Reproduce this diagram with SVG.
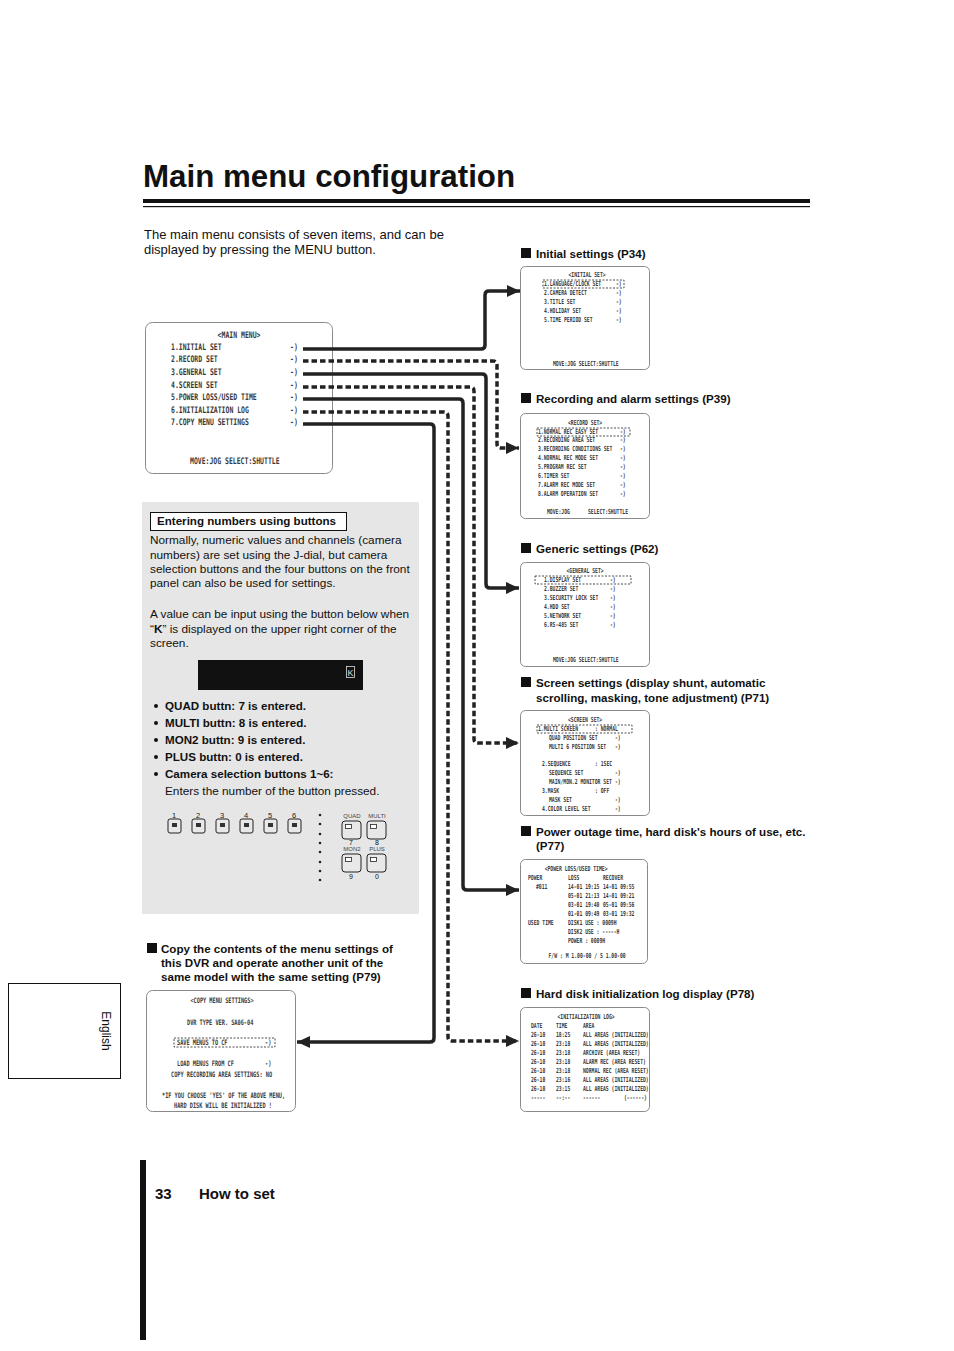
<svg xmlns="http://www.w3.org/2000/svg" width="954" height="1351" viewBox="0 0 954 1351">
<style>
.t{font-family:"Liberation Sans",Arial,sans-serif;fill:#111}
.b{font-weight:bold}
.box{fill:#fff;stroke:#8a8a8a;stroke-width:1}
.m{font-family:"DejaVu Sans Mono","Liberation Mono",monospace;font-size:7px;font-weight:bold;fill:#3a3a3a;transform:scaleX(0.68);transform-box:fill-box;transform-origin:0 0}
.mc{font-family:"DejaVu Sans Mono","Liberation Mono",monospace;font-size:7px;font-weight:bold;fill:#3a3a3a;transform:scaleX(0.68);transform-box:fill-box;transform-origin:50% 50%;text-anchor:middle}
.mm{font-size:9px;transform:scaleX(0.72)}
.cp{font-size:7.5px;transform:scaleX(0.7)}
.hl{fill:none;stroke:#222;stroke-width:0.8;stroke-dasharray:2 1.5}
.c{fill:none;stroke:#222;stroke-width:3.5}
.d{stroke-dasharray:5.5 3}
.btn{fill:#e8e8e8;stroke:#222;stroke-width:1}
.bi{fill:#333}
.sm{font-family:"Liberation Sans",Arial,sans-serif;font-size:6px;fill:#444;text-anchor:middle}
.sec{font-size:11.6px}
.p{font-size:11.8px}
</style>
<defs>
<marker id="ar" markerUnits="userSpaceOnUse" markerWidth="14" markerHeight="14" viewBox="0 0 14 14" refX="13" refY="7" orient="auto">
<path d="M0,1 L13,7 L0,13 Z" fill="#222"/>
</marker>
</defs>
<rect width="954" height="1351" fill="#fff"/>

<g id="title">
<text class="t b" x="143" y="187" font-size="31.3">Main menu configuration</text>
<rect x="143" y="199" width="667" height="4" fill="#111"/>
<rect x="143" y="206" width="667" height="1.2" fill="#111"/>
</g>

<g id="intro">
<text class="t" x="144" y="239" font-size="13">The main menu consists of seven items, and can be</text>
<text class="t" x="144" y="254" font-size="13">displayed by pressing the MENU button.</text>
</g>

<g id="main-menu">
<rect class="box" x="145.5" y="322.5" width="187" height="151" rx="7"/>
<text class="mc mm" x="239" y="338">&lt;MAIN MENU&gt;</text>
<text class="m mm" x="171" y="350">1.INITIAL SET</text>
<text class="m mm" x="171" y="362">2.RECORD SET</text>
<text class="m mm" x="171" y="375">3.GENERAL SET</text>
<text class="m mm" x="171" y="388">4.SCREEN SET</text>
<text class="m mm" x="171" y="400">5.POWER LOSS/USED TIME</text>
<text class="m mm" x="171" y="413">6.INITIALIZATION LOG</text>
<text class="m mm" x="171" y="425">7.COPY MENU SETTINGS</text>
<text class="m mm" x="290" y="350">-)</text>
<text class="m mm" x="290" y="362">-)</text>
<text class="m mm" x="290" y="375">-)</text>
<text class="m mm" x="290" y="388">-)</text>
<text class="m mm" x="290" y="400">-)</text>
<text class="m mm" x="290" y="413">-)</text>
<text class="m mm" x="290" y="425">-)</text>
<text class="m mm" x="190" y="464">MOVE:JOG   SELECT:SHUTTLE</text>
</g>

<g id="connectors">
<path class="c" d="M303,349 H481 Q485,349 485,345 V295 Q485,291 489,291 H520" marker-end="url(#ar)"/>
<path class="c d" d="M303,361 H493 Q497,361 497,365 V444 Q497,448 501,448 H519" marker-end="url(#ar)"/>
<path class="c" d="M303,374 H482 Q486,374 486,378 V584 Q486,588 490,588 H519" marker-end="url(#ar)"/>
<path class="c d" d="M303,387 H470 Q474,387 474,391 V739 Q474,743 478,743 H519" marker-end="url(#ar)"/>
<path class="c" d="M303,399 H459 Q463,399 463,403 V886 Q463,890 467,890 H519" marker-end="url(#ar)"/>
<path class="c d" d="M303,412 H444 Q448,412 448,416 V1037 Q448,1041 452,1041 H519" marker-end="url(#ar)"/>
<path class="c" d="M303,424 H430 Q434,424 434,428 V1038 Q434,1042 430,1042 H297" marker-end="url(#ar)"/>
</g>

<g id="initial-settings">
<rect x="521" y="248" width="10" height="10" fill="#111"/>
<text class="t b sec" x="536" y="258">Initial settings (P34)</text>
<rect class="box" x="520.5" y="266.5" width="129" height="103" rx="5"/>
<text class="mc" x="587" y="277">&lt;INITIAL SET&gt;</text>
<rect class="hl" x="543" y="280" width="81" height="8"/>
<text class="m" x="544" y="286">1.LANGUAGE/CLOCK SET</text>
<text class="m" x="544" y="295">2.CAMERA DETECT</text>
<text class="m" x="544" y="304">3.TITLE SET</text>
<text class="m" x="544" y="313">4.HOLIDAY SET</text>
<text class="m" x="544" y="322">5.TIME PERIOD SET</text>
<text class="m" x="616" y="286">-)</text>
<text class="m" x="616" y="295">-)</text>
<text class="m" x="616" y="304">-)</text>
<text class="m" x="616" y="313">-)</text>
<text class="m" x="616" y="322">-)</text>
<text class="m" x="553" y="366">MOVE:JOG    SELECT:SHUTTLE</text>
</g>

<g id="record-settings">
<rect x="521" y="393" width="10" height="10" fill="#111"/>
<text class="t b sec" x="536" y="403">Recording and alarm settings (P39)</text>
<rect class="box" x="520.5" y="413.5" width="129" height="105" rx="5"/>
<text class="mc" x="585" y="425">&lt;RECORD SET&gt;</text>
<rect class="hl" x="537" y="428" width="93" height="8"/>
<text class="m" x="538" y="434">1.NORMAL REC EASY SET</text>
<text class="m" x="538" y="442">2.RECORDING AREA SET</text>
<text class="m" x="538" y="451">3.RECORDING CONDITIONS SET</text>
<text class="m" x="538" y="460">4.NORMAL REC MODE SET</text>
<text class="m" x="538" y="469">5.PROGRAM REC SET</text>
<text class="m" x="538" y="478">6.TIMER SET</text>
<text class="m" x="538" y="487">7.ALARM REC MODE SET</text>
<text class="m" x="538" y="496">8.ALARM OPERATION SET</text>
<text class="m" x="620" y="434">-)</text>
<text class="m" x="620" y="442">-)</text>
<text class="m" x="620" y="451">-)</text>
<text class="m" x="620" y="460">-)</text>
<text class="m" x="620" y="469">-)</text>
<text class="m" x="620" y="478">-)</text>
<text class="m" x="620" y="487">-)</text>
<text class="m" x="620" y="496">-)</text>
<text class="m" x="547" y="514">MOVE:JOG</text>
<text class="m" x="588" y="514">SELECT:SHUTTLE</text>
</g>

<g id="generic-settings">
<rect x="521" y="543" width="10" height="10" fill="#111"/>
<text class="t b sec" x="536" y="553">Generic settings (P62)</text>
<rect class="box" x="520.5" y="562.5" width="129" height="104" rx="5"/>
<text class="mc" x="585" y="573">&lt;GENERAL SET&gt;</text>
<rect class="hl" x="535" y="576" width="96" height="8"/>
<text class="m" x="544" y="582">1.DISPLAY SET</text>
<text class="m" x="544" y="591">2.BUZZER SET</text>
<text class="m" x="544" y="600">3.SECURITY LOCK SET</text>
<text class="m" x="544" y="609">4.HDD SET</text>
<text class="m" x="544" y="618">5.NETWORK SET</text>
<text class="m" x="544" y="627">6.RS-485 SET</text>
<text class="m" x="610" y="582">-)</text>
<text class="m" x="610" y="591">-)</text>
<text class="m" x="610" y="600">-)</text>
<text class="m" x="610" y="609">-)</text>
<text class="m" x="610" y="618">-)</text>
<text class="m" x="610" y="627">-)</text>
<text class="m" x="553" y="662">MOVE:JOG   SELECT:SHUTTLE</text>
</g>

<g id="screen-settings">
<rect x="521" y="677" width="10" height="10" fill="#111"/>
<text class="t b sec" x="536" y="687">Screen settings (display shunt, automatic</text>
<text class="t b sec" x="536" y="702">scrolling, masking, tone adjustment) (P71)</text>
<rect class="box" x="520.5" y="710.5" width="129" height="105" rx="5"/>
<text class="mc" x="585" y="722">&lt;SCREEN SET&gt;</text>
<rect class="hl" x="537" y="725" width="95" height="8"/>
<text class="m" x="538" y="731">1.MULTI SCREEN</text>
<text class="m" x="595" y="731">: NORMAL</text>
<text class="m" x="549" y="740">QUAD POSITION SET</text>
<text class="m" x="549" y="749">MULTI 6 POSITION SET</text>
<text class="m" x="542" y="766">2.SEQUENCE</text>
<text class="m" x="595" y="766">:  1SEC</text>
<text class="m" x="549" y="775">SEQUENCE SET</text>
<text class="m" x="549" y="784">MAIN/MON.2 MONITOR SET</text>
<text class="m" x="542" y="793">3.MASK</text>
<text class="m" x="595" y="793">:  OFF</text>
<text class="m" x="549" y="802">MASK SET</text>
<text class="m" x="542" y="811">4.COLOR LEVEL SET</text>
<text class="m" x="615" y="740">-)</text>
<text class="m" x="615" y="749">-)</text>
<text class="m" x="615" y="775">-)</text>
<text class="m" x="615" y="784">-)</text>
<text class="m" x="615" y="802">-)</text>
<text class="m" x="615" y="811">-)</text>
</g>

<g id="power-settings">
<rect x="521" y="826" width="10" height="10" fill="#111"/>
<text class="t b sec" x="536" y="836">Power outage time, hard disk's hours of use, etc.</text>
<text class="t b sec" x="536" y="850">(P77)</text>
<rect class="box" x="520.5" y="859.5" width="127" height="104" rx="5"/>
<text class="mc" x="576" y="871">&lt;POWER LOSS/USED TIME&gt;</text>
<text class="m" x="528" y="880">POWER</text>
<text class="m" x="568" y="880">LOSS</text>
<text class="m" x="603" y="880">RECOVER</text>
<text class="m" x="536" y="889">#011</text>
<text class="m" x="568" y="889">14-01 19:15</text>
<text class="m" x="603" y="889">14-01 09:55</text>
<text class="m" x="568" y="898">05-01 21:13</text>
<text class="m" x="603" y="898">14-01 09:21</text>
<text class="m" x="568" y="907">03-01 19:40</text>
<text class="m" x="603" y="907">05-01 09:56</text>
<text class="m" x="568" y="916">01-01 09:49</text>
<text class="m" x="603" y="916">03-01 19:32</text>
<text class="m" x="528" y="925">USED TIME</text>
<text class="m" x="568" y="925">DISK1 USE  :  0009H</text>
<text class="m" x="568" y="934">DISK2 USE  :  -----H</text>
<text class="m" x="568" y="943">POWER      :  0009H</text>
<text class="mc" x="587" y="958">F/W : M 1.00-00  / S 1.00-00</text>
</g>

<g id="log-settings">
<rect x="521" y="988" width="10" height="10" fill="#111"/>
<text class="t b sec" x="536" y="998">Hard disk initialization log display (P78)</text>
<rect class="box" x="520.5" y="1007.5" width="129" height="104" rx="5"/>
<text class="mc" x="586" y="1019">&lt;INITIALIZATION LOG&gt;</text>
<text class="m" x="531" y="1028">DATE</text>
<text class="m" x="556" y="1028">TIME</text>
<text class="m" x="583" y="1028">AREA</text>
<text class="m" x="531" y="1037">26-10</text><text class="m" x="556" y="1037">18:25</text><text class="m" x="583" y="1037">ALL AREAS (INITIALIZED)</text>
<text class="m" x="531" y="1046">26-10</text><text class="m" x="556" y="1046">23:18</text><text class="m" x="583" y="1046">ALL AREAS (INITIALIZED)</text>
<text class="m" x="531" y="1055">26-10</text><text class="m" x="556" y="1055">23:18</text><text class="m" x="583" y="1055">ARCHIVE   (AREA RESET)</text>
<text class="m" x="531" y="1064">26-10</text><text class="m" x="556" y="1064">23:18</text><text class="m" x="583" y="1064">ALARM REC (AREA RESET)</text>
<text class="m" x="531" y="1073">26-10</text><text class="m" x="556" y="1073">23:18</text><text class="m" x="583" y="1073">NORMAL REC (AREA RESET)</text>
<text class="m" x="531" y="1082">26-10</text><text class="m" x="556" y="1082">23:16</text><text class="m" x="583" y="1082">ALL AREAS (INITIALIZED)</text>
<text class="m" x="531" y="1091">26-10</text><text class="m" x="556" y="1091">23:15</text><text class="m" x="583" y="1091">ALL AREAS (INITIALIZED)</text>
<text class="m" x="531" y="1100">-----</text><text class="m" x="556" y="1100">--:--</text><text class="m" x="583" y="1100">------</text><text class="m" x="624" y="1100">(------)</text>
</g>

<g id="copy-settings">
<rect x="147" y="943" width="10" height="10" fill="#111"/>
<text class="t b sec" x="161" y="953">Copy the contents of the menu settings of</text>
<text class="t b sec" x="161" y="967">this DVR and operate another unit of the</text>
<text class="t b sec" x="161" y="981">same model with the same setting (P79)</text>
<rect class="box" x="146.5" y="990.5" width="149" height="121" rx="6"/>
<text class="mc cp" x="222" y="1003">&lt;COPY MENU SETTINGS&gt;</text>
<text class="m cp" x="187" y="1025">DVR TYPE VER. SA06-04</text>
<rect class="hl" x="174" y="1038" width="101" height="9"/>
<text class="m cp" x="177" y="1045">SAVE MENUS TO CF</text>
<text class="m cp" x="265" y="1045">-)</text>
<text class="m cp" x="177" y="1066">LOAD MENUS FROM CF</text>
<text class="m cp" x="265" y="1066">-)</text>
<text class="m cp" x="171" y="1077">COPY RECORDING AREA SETTINGS: NO</text>
<text class="m cp" x="162" y="1098">*IF YOU CHOOSE 'YES' OF THE ABOVE MENU,</text>
<text class="m cp" x="174" y="1108">HARD DISK WILL BE INITIALIZED !</text>
</g>

<g id="entering-numbers">
<rect x="142" y="502" width="277" height="412" fill="#e6e6e6"/>
<rect x="150.5" y="512.5" width="196" height="18" fill="#fff" stroke="#111" stroke-width="1"/>
<text class="t b sec" x="157" y="525">Entering numbers using buttons</text>
<text class="t p" x="150" y="544">Normally, numeric values and channels (camera</text>
<text class="t p" x="150" y="559">numbers) are set using the J-dial, but camera</text>
<text class="t p" x="150" y="573">selection buttons and the four buttons on the front</text>
<text class="t p" x="150" y="587">panel can also be used for settings.</text>
<text class="t p" x="150" y="618">A value can be input using the button below when</text>
<text class="t p" x="150" y="633">“<tspan font-weight="bold">K</tspan>” is displayed on the upper right corner of the</text>
<text class="t p" x="150" y="647">screen.</text>
<rect x="198" y="660" width="165" height="30" fill="#111"/>
<rect x="346.5" y="666.5" width="8" height="11" fill="none" stroke="#ddd" stroke-width="0.8"/>
<text x="350.5" y="676" font-family="Liberation Sans,Arial,sans-serif" font-size="9" fill="#ddd" text-anchor="middle">K</text>
<g class="t b sec">
<circle cx="156" cy="706" r="2" fill="#111"/><text x="165" y="710">QUAD buttn: 7 is entered.</text>
<circle cx="156" cy="723" r="2" fill="#111"/><text x="165" y="727">MULTI buttn: 8 is entered.</text>
<circle cx="156" cy="740" r="2" fill="#111"/><text x="165" y="744">MON2 buttn: 9 is entered.</text>
<circle cx="156" cy="757" r="2" fill="#111"/><text x="165" y="761">PLUS buttn: 0 is entered.</text>
<circle cx="156" cy="774" r="2" fill="#111"/><text x="165" y="778">Camera selection buttons 1~6:</text>
</g>
<text class="t p" x="165" y="795">Enters the number of the button pressed.</text>
</g>

<g id="buttons">
<g font-family="Liberation Sans,Arial,sans-serif" font-size="7.5" fill="#222" text-anchor="middle">
<text x="174" y="818">1</text><text x="198" y="818">2</text><text x="222" y="818">3</text><text x="246" y="818">4</text><text x="270" y="818">5</text><text x="294" y="818">6</text>
</g>
<rect class="btn" x="168" y="819" width="13" height="14" rx="2"/><rect class="bi" x="172" y="823" width="5" height="4"/>
<rect class="btn" x="192" y="819" width="13" height="14" rx="2"/><rect class="bi" x="196" y="823" width="5" height="4"/>
<rect class="btn" x="216" y="819" width="13" height="14" rx="2"/><rect class="bi" x="220" y="823" width="5" height="4"/>
<rect class="btn" x="240" y="819" width="13" height="14" rx="2"/><rect class="bi" x="244" y="823" width="5" height="4"/>
<rect class="btn" x="264" y="819" width="13" height="14" rx="2"/><rect class="bi" x="268" y="823" width="5" height="4"/>
<rect class="btn" x="288" y="819" width="13" height="14" rx="2"/><rect class="bi" x="292" y="823" width="5" height="4"/>
<g fill="#222">
<circle cx="320" cy="815" r="1.3"/><circle cx="320" cy="824" r="1.3"/><circle cx="320" cy="834" r="1.3"/><circle cx="320" cy="843" r="1.3"/><circle cx="320" cy="852" r="1.3"/><circle cx="320" cy="862" r="1.3"/><circle cx="320" cy="871" r="1.3"/><circle cx="320" cy="880" r="1.3"/>
</g>
<text class="sm" x="352" y="818">QUAD</text>
<text class="sm" x="377" y="818">MULTI</text>
<rect class="btn" x="342" y="821" width="19" height="18" rx="3" stroke-width="1.3"/><rect x="345.5" y="824.5" width="6" height="4" fill="#fff" stroke="#222" stroke-width="0.8"/>
<rect class="btn" x="367" y="821" width="19" height="18" rx="3" stroke-width="1.3"/><rect x="370.5" y="824.5" width="6" height="4" fill="#fff" stroke="#222" stroke-width="0.8"/>
<text class="t" x="351" y="845" font-size="7" text-anchor="middle">7</text>
<text class="t" x="377" y="845" font-size="7" text-anchor="middle">8</text>
<text class="sm" x="352" y="851">MON2</text>
<text class="sm" x="377" y="851">PLUS</text>
<rect class="btn" x="342" y="854" width="19" height="18" rx="3" stroke-width="1.3"/><rect x="345.5" y="857.5" width="6" height="4" fill="#fff" stroke="#222" stroke-width="0.8"/>
<rect class="btn" x="367" y="854" width="19" height="18" rx="3" stroke-width="1.3"/><rect x="370.5" y="857.5" width="6" height="4" fill="#fff" stroke="#222" stroke-width="0.8"/>
<text class="t" x="351" y="879" font-size="7" text-anchor="middle">9</text>
<text class="t" x="377" y="879" font-size="7" text-anchor="middle">0</text>
</g>

<g id="english-tab">
<rect x="8.5" y="983.5" width="112" height="95" fill="#fff" stroke="#111" stroke-width="1"/>
<text class="t" x="0" y="0" font-size="12" text-anchor="middle" transform="translate(102,1031) rotate(90)">English</text>
</g>

<g id="footer">
<rect x="140" y="1160" width="6" height="180" fill="#111"/>
<text class="t b" x="155" y="1199" font-size="15">33</text>
<text class="t b" x="199" y="1199" font-size="15">How to set</text>
</g>
</svg>
